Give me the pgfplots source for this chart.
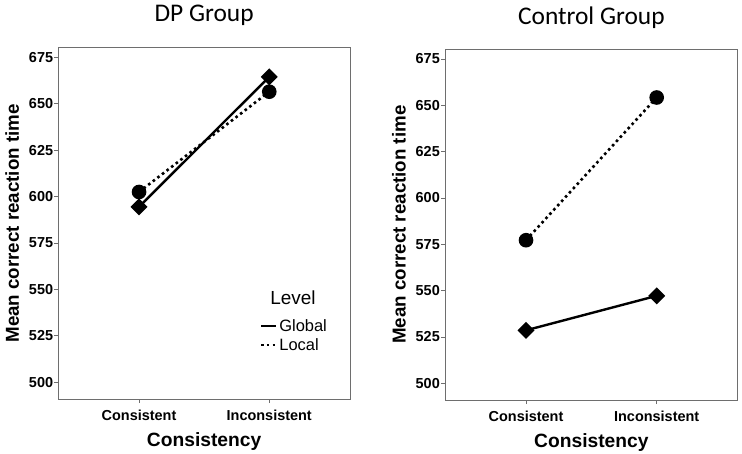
\documentclass[border=0pt]{standalone}
\usepackage{pgfplots}
\pgfplotsset{compat=1.18}
\usepackage{fontspec}
\setmainfont{Liberation Sans}
\newfontfamily\carlito{Carlito}
\definecolor{axgray}{RGB}{110,110,110}
\pgfplotsset{
  myaxis/.style={
    scale only axis,
    anchor=south west,
    xmin=-0.62, xmax=1.62,
    ymin=491, ymax=680.2,
    xtick={0,1},
    xticklabels={Consistent,Inconsistent},
    ytick={500,525,550,575,600,625,650,675},
    axis line style={axgray, line width=1pt},
    tick style={axgray, line width=0.8pt},
    tick align=outside,
    major tick length=4bp,
    xtick pos=bottom, ytick pos=left,
    /pgf/number format/assume math mode=true,
    yticklabel style={font=\bfseries\fontsize{14.5}{14.5}\selectfont, inner sep=1bp},
    xticklabel style={font=\bfseries\fontsize{14.5}{14.5}\selectfont, inner sep=1bp, yshift=-6bp},
    every axis y label/.style={at={(axis description cs:0,0.5)}, xshift=-46bp, anchor=center, rotate=90,
      font=\bfseries\fontsize{18.8}{18.8}\selectfont},
    every axis x label/.style={at={(axis description cs:0.5,0)}, yshift=-43bp, anchor=center,
      font=\bfseries\fontsize{19.3}{19.3}\selectfont},
    title style={at={(axis description cs:0.5,1)}, anchor=center, yshift=26bp,
      font=\carlito\fontsize{25.5}{25.5}\selectfont},
    xlabel={Consistency},
    ylabel={Mean correct reaction time},
    clip=false,
  },
  globalline/.style={black, line width=2.4bp, solid, mark=square*, mark size=4.8bp,
    mark options={rotate=45, solid, fill=black}},
  localline/.style={black, line width=2.6bp, dash pattern=on 2.6bp off 3.2bp, mark=*, mark size=6bp,
    mark options={solid, fill=black}},
}
\begin{document}
\begin{tikzpicture}
\useasboundingbox (0,0) rectangle (742bp,454bp);
\begin{axis}[myaxis, at={(58.3bp,55bp)}, width=291.7bp, height=351.3bp,
  title={DP Group},
  legend style={at={(axis description cs:0.69,0.314)}, anchor=north west, draw=none, fill=none,
    font=\fontsize{16.5}{18}\selectfont, row sep=1.5bp, inner sep=0pt,
    /tikz/every even column/.append style={column sep=6bp}},
  legend cell align=left,
  legend image code/.code={\draw[#1, mark=none] (0bp,0bp) -- (15bp,0bp);},
]
\addlegendimage{empty legend}
\addlegendentry{\hspace{-9bp}\raisebox{8bp}{\fontsize{19}{26}\selectfont Level}}
\addplot[globalline] coordinates {(0,594.5) (1,664.5)};
\addlegendentry{Global}
\addplot[localline] coordinates {(0,602.5) (1,656.5)};
\addlegendentry{Local}
\end{axis}
\begin{axis}[myaxis, at={(445bp,54bp)}, width=292.7bp, height=350.7bp,
  title={Control Group},
]
\addplot[globalline] coordinates {(0,528.6) (1,547.2)};
\addplot[localline] coordinates {(0,577.2) (1,654.2)};
\end{axis}
\end{tikzpicture}
\end{document}
